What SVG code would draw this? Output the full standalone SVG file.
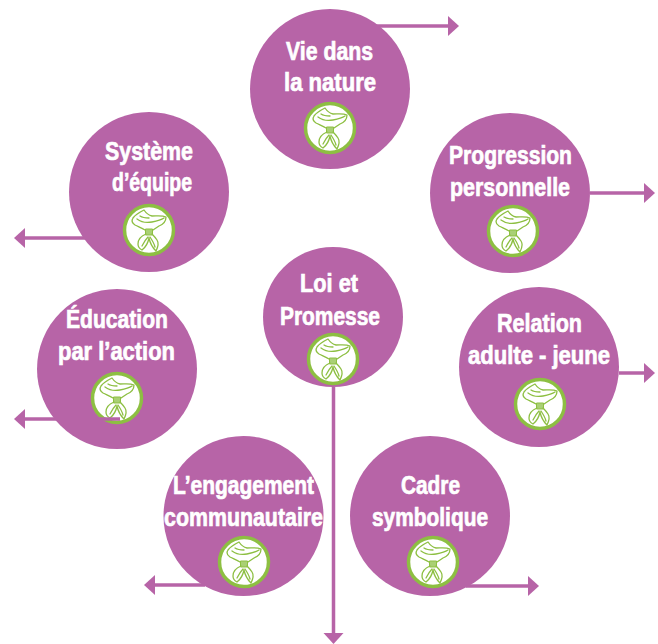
<svg xmlns="http://www.w3.org/2000/svg" width="658" height="644" viewBox="0 0 658 644">
<style>
.c{fill:#B764A7}
.t{fill:#fff;stroke:#fff;stroke-width:.7px;font-family:"Liberation Sans Narrow","Liberation Sans",Arial,sans-serif;font-weight:700;font-size:26px}
.r{fill:#fff;stroke:#8DBF42;stroke-width:3.5}
.k{fill:none;stroke:#8DBF42;stroke-width:1.3;stroke-linejoin:round;stroke-linecap:round}
.m{fill:#A9D074;stroke:#8DBF42;stroke-width:1}
.a{fill:none;stroke:#B764A7;stroke-width:3.500;marker-end:url(#h)}
</style>
<defs>
<marker id="h" markerUnits="userSpaceOnUse" markerWidth="12" markerHeight="22" refX="0" refY="11" orient="auto"><path d="M0 1L11 11L0 21Z" fill="#B764A7"/></marker>
<g id="badge">
<circle class="r" r="24.5"/>
<path class="k" d="M-16-12C-13-16-9-18-5-20C-3-17-1-15 3-14C8-14 13-15 17-13C17-9 15-6 10-4L4 0M-16-12C-18-9-17-7-14-5C-10-3-7-2-4 0M-12-11C-8-8-2-7 3-8C8-9 12-10 15-12M-9-14C-6-12-3-12 0-12"/>
<path class="m" d="M-3.500-1L3.500-1L3.500 5L-3.500 5Z"/>
<path class="k" d="M-3 4C-8 6-11 9-11 14C-11 17-9 19-7 20C-3 17-1 13 0 8C1 13 4 18 7 21C9 17 10 13 8 10C6 7 4 5 3 4M-7 16C-5 12-3 9-1 7M6 17C5 13 3 10 1 7"/>
</g>
</defs>
<g id="node-vie"><circle class="c" cx="330" cy="89" r="80"/><text class="t" x="286" y="60" textLength="87" lengthAdjust="spacingAndGlyphs">Vie dans</text><text class="t" x="284" y="91" textLength="92" lengthAdjust="spacingAndGlyphs">la nature</text><use href="#badge" x="330" y="128"/></g>
<g id="node-systeme"><circle class="c" cx="149" cy="192" r="80"/><text class="t" x="105" y="160" textLength="88" lengthAdjust="spacingAndGlyphs">Système</text><text class="t" x="112" y="191" textLength="80" lengthAdjust="spacingAndGlyphs">d’équipe</text><use href="#badge" x="149" y="230"/></g>
<g id="node-progression"><circle class="c" cx="510" cy="193" r="80"/><text class="t" x="449" y="164" textLength="123" lengthAdjust="spacingAndGlyphs">Progression</text><text class="t" x="450" y="196" textLength="120" lengthAdjust="spacingAndGlyphs">personnelle</text><use href="#badge" x="513" y="231"/></g>
<g id="node-loi"><circle class="c" cx="333" cy="317" r="70"/><text class="t" x="300" y="292" textLength="58" lengthAdjust="spacingAndGlyphs">Loi et</text><text class="t" x="280" y="325" textLength="100" lengthAdjust="spacingAndGlyphs">Promesse</text><use href="#badge" x="333" y="359"/></g>
<g id="node-relation"><circle class="c" cx="539" cy="367" r="80"/><text class="t" x="497" y="332" textLength="85" lengthAdjust="spacingAndGlyphs">Relation</text><text class="t" x="468" y="364" textLength="142" lengthAdjust="spacingAndGlyphs">adulte - jeune</text><use href="#badge" x="540" y="404"/></g>
<g id="node-education"><circle class="c" cx="117" cy="369" r="80"/><text class="t" x="66" y="328" textLength="102" lengthAdjust="spacingAndGlyphs">Éducation</text><text class="t" x="58" y="360" textLength="117" lengthAdjust="spacingAndGlyphs">par l’action</text><use href="#badge" x="117" y="398"/></g>
<g id="node-engagement"><circle class="c" cx="243.500" cy="516" r="80"/><text class="t" x="173" y="494" textLength="141" lengthAdjust="spacingAndGlyphs">L’engagement</text><text class="t" x="164" y="526" textLength="159" lengthAdjust="spacingAndGlyphs">communautaire</text><use href="#badge" x="244" y="562"/></g>
<g id="node-cadre"><circle class="c" cx="430" cy="516" r="80"/><text class="t" x="401" y="494" textLength="59" lengthAdjust="spacingAndGlyphs">Cadre</text><text class="t" x="372" y="526" textLength="116" lengthAdjust="spacingAndGlyphs">symbolique</text><use href="#badge" x="433" y="562"/></g>
<g id="connectors">
<path class="a" d="M375 26H448"/>
<path class="a" d="M590 193H644"/>
<path class="a" d="M619 373H644"/>
<path class="a" d="M466 586H528"/>
<path class="a" d="M205 585H155"/>
<path class="a" d="M120 419H25"/>
<path class="a" d="M85 238H25"/>
<path class="a" d="M333.500 387V633"/>
</g>
</svg>
